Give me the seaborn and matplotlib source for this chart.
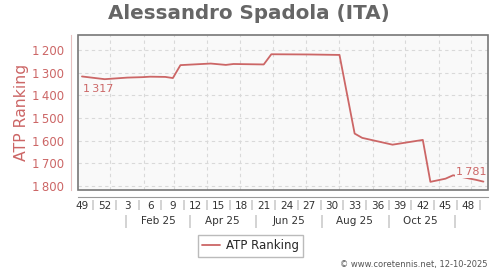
import matplotlib
matplotlib.use("Agg")
import matplotlib.pyplot as plt
import matplotlib.dates as mdates
from matplotlib.patches import Rectangle
import seaborn as sns
import pandas as pd

# ---- data ----
dates = ["2024-12-06", "2024-12-27", "2025-01-17", "2025-01-31", "2025-02-07",
         "2025-02-21", "2025-02-28", "2025-03-07", "2025-04-04", "2025-04-18",
         "2025-04-25", "2025-05-23", "2025-05-30", "2025-07-04", "2025-08-01",
         "2025-08-15", "2025-08-22", "2025-09-19", "2025-10-17", "2025-10-24",
         "2025-11-07", "2025-11-14", "2025-12-05", "2025-12-12"]
ranking = [1317, 1329, 1322, 1320, 1318, 1319, 1324, 1267, 1260, 1266,
           1262, 1264, 1219, 1220, 1222, 1569, 1588, 1618, 1597, 1782,
           1768, 1753, 1773, 1781]
week_labels = ["49", "52", "3", "6", "9", "12", "15", "18", "21", "24",
               "27", "30", "33", "36", "39", "42", "45", "48"]
month_labels = ["Feb 25", "Apr 25", "Jun 25", "Aug 25", "Oct 25"]
month_label_dates = ["2025-02-15", "2025-04-15", "2025-06-15", "2025-08-15", "2025-10-15"]
month_sep_dates = ["2025-01-16", "2025-03-16", "2025-05-16", "2025-07-16", "2025-09-16", "2025-11-16"]
yticks = [1200, 1300, 1400, 1500, 1600, 1700, 1800]

df = pd.DataFrame({"date": pd.to_datetime(dates), "ATP Ranking": ranking})

RED = "#cc6666"
sns.set_style("white")
plt.rcParams["font.family"] = ["DejaVu Sans"]

fig = plt.figure(figsize=(5.0, 2.7), dpi=100)
ax = fig.add_axes([0.156, 0.2963, 0.82, 0.5741])
ax.set_facecolor("#f9f9f9")

sns.lineplot(data=df, x="date", y="ATP Ranking", ax=ax, color=RED,
             linewidth=1.3, label="ATP Ranking", zorder=3)

ax.set_ylim(1818, 1134)
ax.set_xlim(pd.Timestamp("2024-12-02 08:00"), pd.Timestamp("2025-12-16 06:00"))

# grid
ax.set_yticks(yticks)
ax.set_yticklabels([f"{v // 1000}\u2009{v % 1000:03d}" for v in yticks])
ax.xaxis.set_major_locator(mdates.MonthLocator())
ax.xaxis.set_major_formatter(plt.NullFormatter())
ax.grid(True, which="major", color="#d9d9d9", linestyle=(0, (3, 3)), linewidth=0.8)
ax.tick_params(axis="x", which="major", length=3, color="#999999", width=0.8)
ax.tick_params(axis="y", length=3, color="#e0b0b0", labelcolor=RED, labelsize=8.5, pad=2)

# spines
for s in ["top", "right"]:
    ax.spines[s].set_visible(False)
ax.spines["left"].set_position(("outward", 5))
ax.spines["left"].set_color("#e6c0c0")
ax.spines["bottom"].set_position(("outward", 5))
ax.spines["bottom"].set_color("#999999")
ax.add_patch(Rectangle((0, 0), 1, 1, transform=ax.transAxes, fill=False,
                       edgecolor="#777777", linewidth=1.2, zorder=5, clip_on=False))

ax.set_xlabel("")
ax.set_ylabel("ATP Ranking", color=RED, fontsize=11.3, labelpad=2)

# week labels row
week_pos = pd.date_range("2024-12-06", periods=len(week_labels), freq="21D")
sec1 = ax.secondary_xaxis(-0.062)
sec1.spines["bottom"].set_visible(False)
sec1.set_xticks(week_pos, labels=week_labels)
sec1.set_xticks(week_pos + pd.Timedelta(days=10.5), minor=True)
sec1.tick_params(axis="x", which="major", length=0, labelsize=7.5, pad=1, labelcolor="#333333")
sec1.tick_params(axis="x", which="minor", length=7, color="#cccccc", width=1.2)

# month labels row
sec2 = ax.secondary_xaxis(-0.161)
sec2.spines["bottom"].set_visible(False)
sec2.set_xticks(pd.to_datetime(month_sep_dates), labels=[""] * len(month_sep_dates))
sec2.set_xticks(pd.to_datetime(month_label_dates), labels=month_labels, minor=True)
sec2.tick_params(axis="x", which="major", length=9, color="#cccccc", width=1.2)
sec2.tick_params(axis="x", which="minor", length=0, labelsize=7.5, pad=0.5, labelcolor="#333333")

# point labels
ax.annotate("1\u2009317", (df["date"].iloc[0], df["ATP Ranking"].iloc[0]),
            xytext=(1, -9), textcoords="offset points", ha="left", va="center",
            color=RED, fontsize=8, zorder=4)
ax.annotate("1\u2009781", (df["date"].iloc[-1], df["ATP Ranking"].iloc[-1]),
            xytext=(2, 7), textcoords="offset points", ha="right", va="center",
            color=RED, fontsize=8, zorder=4,
            bbox=dict(boxstyle="square,pad=0.1", facecolor="#f9f9f9", edgecolor="none"))

# legend
ax.legend(loc="center", bbox_to_anchor=(0.42, -0.361), frameon=True, fancybox=False,
          edgecolor="#aaaaaa", fontsize=8.5, handlelength=1.5, borderpad=0.35,
          handletextpad=0.5, borderaxespad=0)

fig.suptitle("Alessandro Spadola (ITA)", x=0.497, y=0.985, fontsize=14.3,
             fontweight="bold", color="#666666")
fig.text(0.976, 0.022, "\u00a9 www.coretennis.net, 12-10-2025", ha="right",
         va="center", fontsize=6, color="#555555")

fig.savefig("out.png", dpi=100)
